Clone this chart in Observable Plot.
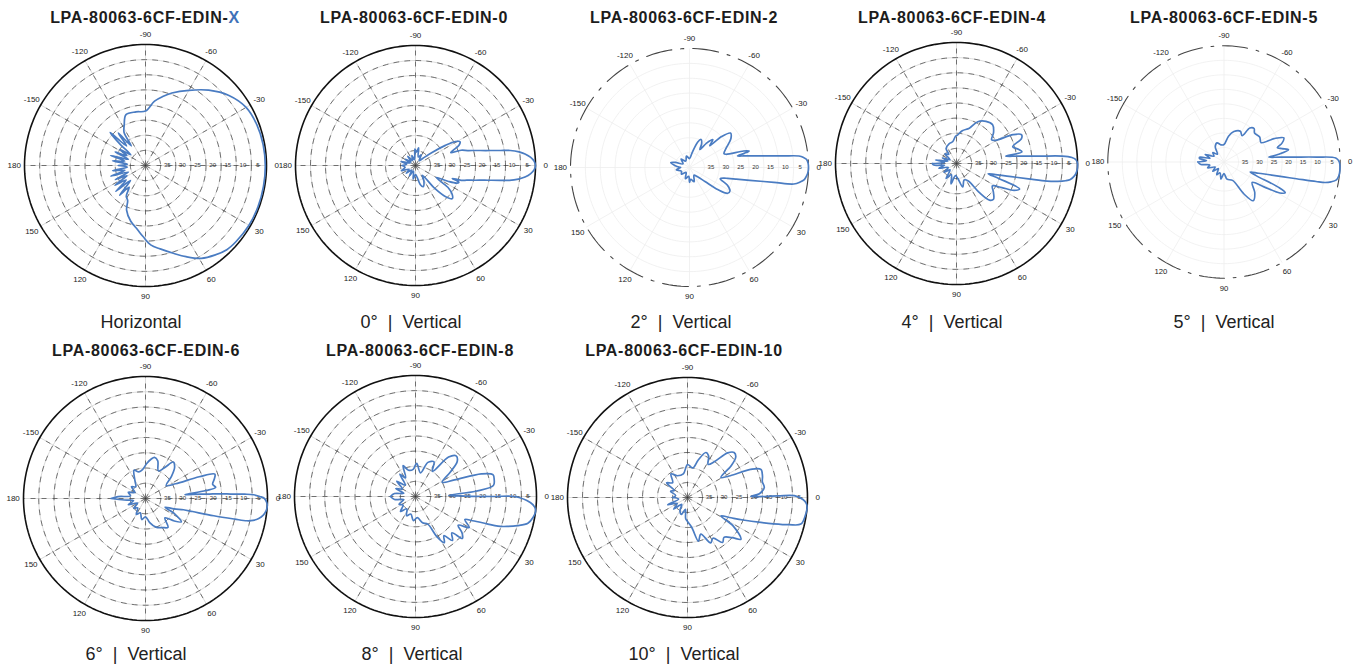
<!DOCTYPE html>
<html><head><meta charset="utf-8">
<script src="https://cdn.jsdelivr.net/npm/d3@7"></script>
<script src="https://cdn.jsdelivr.net/npm/@observablehq/plot@0.6"></script>
<style>
html,body{margin:0;padding:0;background:#fff;}
body{width:1361px;height:664px;overflow:hidden;position:relative;font-family:"Liberation Sans",Arial,sans-serif;}
.title{position:absolute;font-weight:bold;font-size:16px;letter-spacing:0.7px;line-height:16px;color:#1c1c1c;transform:translateX(-50%);white-space:nowrap;}
.title span{color:#3f72b8;}
.cap{position:absolute;font-size:18px;line-height:18px;color:#222;transform:translateX(-50%);white-space:pre;}
.panel{position:absolute;}
</style></head><body>
<script>
// ---- text ----
const titleBase = "LPA-80063-6CF-EDIN-";
const titleSuffix = ["X", "0", "2", "4", "5", "6", "8", "10"];
const captions = ["Horizontal", "0°  |  Vertical", "2°  |  Vertical", "4°  |  Vertical", "5°  |  Vertical",
                  "6°  |  Vertical", "8°  |  Vertical", "10°  |  Vertical"];
const angleTicks = [0, 30, 60, 90, 120, 150, 180, -150, -120, -90, -60, -30];
const ringValues = [35, 30, 25, 20, 15, 10, 5];
const outerValue = 0;
const centerValue = 40;

// ---- patterns: [angle in degrees, attenuation in dB] ----
const gainX = [[-180,31],[-176,34],[-172,29],[-168,33],[-164,28],[-160,34],[-156,29],[-152,33],[-148,30],[-144,34],[-140,29],[-137,24],[-134,31],[-130,26],[-126,32],[-123,27],[-118,25],[-111,22],[-100,22],[-90,22],[-82,18.5],[-76,16.5],[-70,14.5],[-60,11.3],[-50,7.5],[-40,4],[-30,1.6],[-20,0.8],[-10,0.5],[0,0.4],[10,0.4],[20,0.4],[30,0.5],[40,0.9],[46,1.3],[52,2.5],[59,4.2],[66,7],[72,9.4],[80,12],[86,13.6],[92,16.5],[97,18.6],[105,21],[113,24],[117,27],[122,28],[127,31],[131,27],[135,33],[139,27],[143,32],[147,28],[151,33],[155,29],[159,34],[163,28],[167,33],[171,29],[175,34],[180,31]];
const gain0 = [[-180,35.5],[-172,37],[-164,35],[-156,38],[-148,36],[-140,38],[-130,36],[-120,38],[-110,36.5],[-100,38],[-92,34.5],[-86,35.5],[-80,34],[-72,37],[-62,36],[-52,38],[-44,36.5],[-38,33],[-34,28],[-31,24.5],[-28,23.2],[-25,24],[-22,26.5],[-20,27.5],[-18.5,24],[-16,21.9],[-14,19.3],[-12,16],[-11,13.8],[-10,11.2],[-9,8],[-7.5,5.2],[-6,3.3],[-4,1.5],[-2,0.4],[0,0],[2,0.4],[4,1.5],[6,3.3],[7.5,5.4],[9,8.3],[10,11.5],[11,14.2],[12,16.4],[14,19.7],[16,22.2],[18,24],[19.5,27],[21,24.5],[23,25],[26,28],[30,32],[34,27],[38,24.5],[42,23.5],[46,25.5],[50,30],[55,36],[62,34],[70,32.5],[76,33.5],[82,36],[90,37],[100,35.5],[110,38],[120,36],[130,38],[140,36],[150,37.5],[160,35],[170,36.5],[180,35.5]];
const gain2 = [[-180,37],[-172,35],[-165,33.5],[-160,35],[-150,37.5],[-135,36],[-120,37.5],[-105,36],[-90,37],[-80,35],[-72,31],[-67.6,29.8],[-63,31],[-60,33],[-55,30],[-50,27.8],[-47,30],[-44,25],[-40,22],[-35,23],[-28,26],[-22,27.5],[-20,27],[-17,21],[-15.5,19.2],[-14.5,21],[-13.6,23.4],[-12,21.3],[-10,17.6],[-8,12],[-7,8],[-6,3],[-5,1.5],[-4,0.6],[-2,0.1],[0,0],[2,0.1],[4,0.5],[6,1.2],[7.5,2.5],[9,4.5],[10,11.2],[12,19.3],[14,23.8],[16,26.7],[17,27.8],[20,29],[25,26],[30,24.3],[34,24.5],[38,28],[42,33],[50,36],[60,37],[72,35],[84,36],[90,35],[95,37],[110,36],[125,38],[140,36.5],[155,37],[170,35.5],[180,37]];
const gain4 = [[-180,32],[-175,36],[-170,33],[-165,37],[-158,35],[-150,37.5],[-140,35],[-130,36],[-125,34],[-110,33],[-100,32.7],[-92,31],[-88,30.6],[-80,29],[-70,27.6],[-63,24.5],[-55,23],[-47,22.5],[-40,24],[-34,26],[-30.7,25],[-27,19],[-24,16.5],[-21,17],[-16.6,20.6],[-13,19],[-10,18],[-8.5,23.5],[-7,20],[-6,16.6],[-5,12],[-4,5],[-3,1.8],[-2,0.6],[-1,0.2],[0,0],[2,0],[4,0.2],[6,0.8],[8,2],[9,3.5],[10,6],[11,9.5],[12,15.7],[13,19.8],[14,22.8],[16,26.6],[18,29],[19.5,25],[22,17.5],[25,19],[28,23],[32,26],[38,24.5],[44,23],[48,23.7],[52,28],[56,33],[65,34],[75,32],[85,35],[95,36],[105,33],[115,36],[125,34],[135,37],[145,35],[155,37],[165,34],[172,36],[176,32.5],[180,32]];
const gain5 = [[-180,31],[-176,34],[-172,31.5],[-169,31.5],[-165,35],[-158,33],[-150,36],[-140,35],[-130,36.5],[-120,34],[-110,33],[-100,34],[-90,34],[-80,31],[-72,29],[-62,28],[-55.5,29],[-52.7,25.3],[-48,24.5],[-43.5,25.5],[-35,25],[-27.5,25.6],[-25,21],[-22,17.8],[-18,19],[-15,21],[-13,19.5],[-10.8,17.4],[-8,21],[-6.1,24.5],[-5,20.7],[-4,16],[-3,8],[-2,1.5],[0,0.3],[4,0],[7,0.2],[9,0.8],[10.5,2.5],[11.5,4.5],[12,7.6],[13,14.4],[14,18.8],[16,24.3],[18,27.5],[21,30.4],[23,28],[25,19],[26.6,16.4],[29,18],[32,24],[36,28],[45,25],[53,23.3],[58,27],[65,33],[80,34],[90,36],[100,34],[110,36],[120,35],[130,37],[140,35],[150,36.5],[160,34],[168,35],[174,32],[180,31]];
const gain6 = [[-180,28.7],[-176,31],[-170,35],[-160,34],[-150,36],[-140,34],[-130,35],[-120,33],[-112,30],[-104,31],[-96,30.5],[-88,28.5],[-82,27],[-77.6,26.2],[-72,27],[-65,30],[-58,28],[-52.8,25],[-47,26],[-40,29],[-32,32],[-26,29],[-22,21],[-19.4,15.9],[-16,16.5],[-12,17.5],[-9,16.7],[-7.5,20],[-6,26],[-5.5,27],[-5,24.5],[-4,19],[-3.5,15],[-3,12],[-2.5,7.5],[-2,4.5],[-1,2.5],[0,1],[2,0.2],[3.5,0],[6,0.3],[8,1],[10,2.3],[11.5,4],[12.4,6],[13,10],[14.2,16.9],[15.5,24],[16.5,27],[20,30],[24,33],[28,29],[33,26],[38,28],[45,31],[52,28],[60,29],[70,30],[80,32],[90,34],[100,33],[110,35],[120,34],[130,36],[140,35],[150,37],[160,34],[170,36],[176,33],[180,28.7]];
const gain8 = [[-180,31.7],[-172,33],[-165,36],[-158,33],[-150,35],[-141,32],[-132,35],[-125,31],[-118,33],[-112,29],[-105,31],[-95,31],[-88,29],[-78,32],[-70,28],[-62,27],[-56,30],[-50,23],[-45,21],[-40,22],[-35,26],[-28,30],[-23,26],[-19,17],[-15.8,13.4],[-12,13.4],[-8,14],[-5,20],[-2,29],[-0.5,23.3],[0,14],[0,7.2],[3,2],[5,0.5],[7.2,0],[10,0.5],[13.4,1.8],[16,5],[18,8],[19.8,11],[21,15],[23,19.5],[25,22],[30,19.5],[34,23],[38,20.5],[41.8,19.2],[45,23],[50,21],[54,24],[58,22],[62,25],[66,30],[75,31],[85,33],[95,32],[105,34],[115,33],[125,35],[135,33],[145,35],[155,34],[165,36],[172,33],[180,31.7]];
const gain10 = [[-180,35],[-170,36],[-160,34],[-152,35],[-145,31.5],[-135,33],[-125,30.4],[-115,32],[-100,32],[-90,29],[-80,30],[-74,27],[-67.8,23.8],[-63,24.5],[-58,27],[-53,25],[-48,20],[-44,18.4],[-40,19],[-36,22],[-31,27],[-27,24],[-24,17],[-21,13.8],[-16,14],[-12,14.5],[-7.4,14.2],[-3,16],[-1,18.9],[-1,10],[-1,4.4],[1,1.5],[3,0.3],[5,0],[9,0.3],[13.2,1.2],[15,5],[17,10],[18.8,14.2],[22,20],[25,24],[28.8,27.3],[32,22],[38,17.4],[42,20],[47.5,22],[52,21],[58,24],[63,23],[70,27],[76,25],[82,30],[90,32],[95,33],[100,36],[110,34],[120,35],[130,37],[140,34],[150,36],[160,33],[170,37],[180,35]];
const patterns = [gainX, gain0, gain2, gain4, gain5, gain6, gain8, gain10];

// ---- layout (page pixels) ----
const layout = [
  {cx:145, cy:165, R:121, tx:145, ty:10, capx:141, capy:313, faded:false},
  {cx:415, cy:165, R:120, tx:414, ty:10, capx:411, capy:313, faded:false},
  {cx:689, cy:167, R:119, tx:684, ty:10, capx:681, capy:313, faded:true},
  {cx:956, cy:163, R:121, tx:952, ty:10, capx:952, capy:313, faded:false},
  {cx:1228, cy:166, R:120, tx:1224, ty:10, capx:1224, capy:313, faded:true},
  {cx:145, cy:498, R:122, tx:146, ty:343, capx:136, capy:645, faded:false},
  {cx:415, cy:496, R:121, tx:420, ty:343, capx:412, capy:645, faded:false},
  {cx:687, cy:497, R:120, tx:684, ty:343, capx:684, capy:645, faded:false}
];

const rad = d => d * Math.PI / 180;
const px = (v, a) => (centerValue - v) * Math.cos(rad(a));
const py = (v, a) => (centerValue - v) * Math.sin(rad(a));
const circleAngles = d3.range(0, 361, 2);

function polar(pattern, L) {
  const pad = 22;
  const size = 2 * (L.R + pad);
  const rings = ringValues.flatMap(v => circleAngles.map(t => ({v, t})));
  const outer = circleAngles.map(t => ({v: outerValue, t}));
  const rows = pattern.map(([a, db]) => ({a, db}));
  const gridLight = L.faded ? "#eeeeee" : "#d2d2d2";
  const marks = [
    Plot.line(rings, {x: d => px(d.v, d.t), y: d => py(d.v, d.t), z: "v", stroke: gridLight, strokeWidth: 0.8}),
    Plot.link(angleTicks, {x1: 0, y1: 0, x2: a => px(outerValue, a), y2: a => py(outerValue, a), stroke: gridLight, strokeWidth: 0.8})
  ];
  if (!L.faded) {
    marks.push(
      Plot.line(rings, {x: d => px(d.v, d.t), y: d => py(d.v, d.t), z: "v", stroke: "#3a3a3a", strokeWidth: 0.9, strokeDasharray: "5,6", strokeOpacity: 0.75}),
      Plot.link(angleTicks, {x1: 0, y1: 0, x2: a => px(outerValue, a), y2: a => py(outerValue, a), stroke: "#3a3a3a", strokeWidth: 0.9, strokeDasharray: "5,6", strokeOpacity: 0.75})
    );
  }
  marks.push(
    Plot.line(outer, {x: d => px(d.v, d.t), y: d => py(d.v, d.t), stroke: L.faded ? "#444" : "#111", strokeWidth: L.faded ? 1.1 : 1.6, strokeDasharray: L.faded ? "26,9,3,9" : null}),
    Plot.text(ringValues, {x: v => px(v, 0) + 2.2, y: 0, text: v => String(v), fontSize: 6, fill: "#333"}),
    Plot.line(rows, {x: d => px(d.db, d.a), y: d => py(d.db, d.a), stroke: "#4a7cc2", strokeWidth: 1.7, curve: "catmull-rom", strokeLinejoin: "round"}),
    Plot.text(angleTicks, {x: a => px(outerValue - 3.4, a), y: a => py(outerValue - 3.4, a), text: a => String(a), fontSize: 8, fill: "#1a1a1a"})
  );
  return Plot.plot({
    width: size, height: size, margin: pad,
    x: {domain: [-centerValue, centerValue], axis: null},
    y: {domain: [-centerValue, centerValue], reverse: true, axis: null},
    style: {background: "transparent", overflow: "visible", fontFamily: "Liberation Sans, Arial, sans-serif"},
    marks
  });
}

patterns.forEach((pat, i) => {
  const L = layout[i];
  const svg = polar(pat, L);
  const wrap = document.createElement("div");
  wrap.className = "panel";
  const pad = 22;
  wrap.style.left = (L.cx - L.R - pad) + "px";
  wrap.style.top = (L.cy - L.R - pad) + "px";
  wrap.appendChild(svg);
  document.body.appendChild(wrap);

  const t = document.createElement("div");
  t.className = "title";
  t.style.left = L.tx + "px";
  t.style.top = L.ty + "px";
  if (i === 0) {
    t.append(titleBase);
    const s = document.createElement("span");
    s.textContent = titleSuffix[i];
    t.appendChild(s);
  } else {
    t.textContent = titleBase + titleSuffix[i];
  }
  document.body.appendChild(t);

  const c = document.createElement("div");
  c.className = "cap";
  c.style.left = L.capx + "px";
  c.style.top = L.capy + "px";
  c.textContent = captions[i];
  document.body.appendChild(c);
});
</script>
</body></html>
